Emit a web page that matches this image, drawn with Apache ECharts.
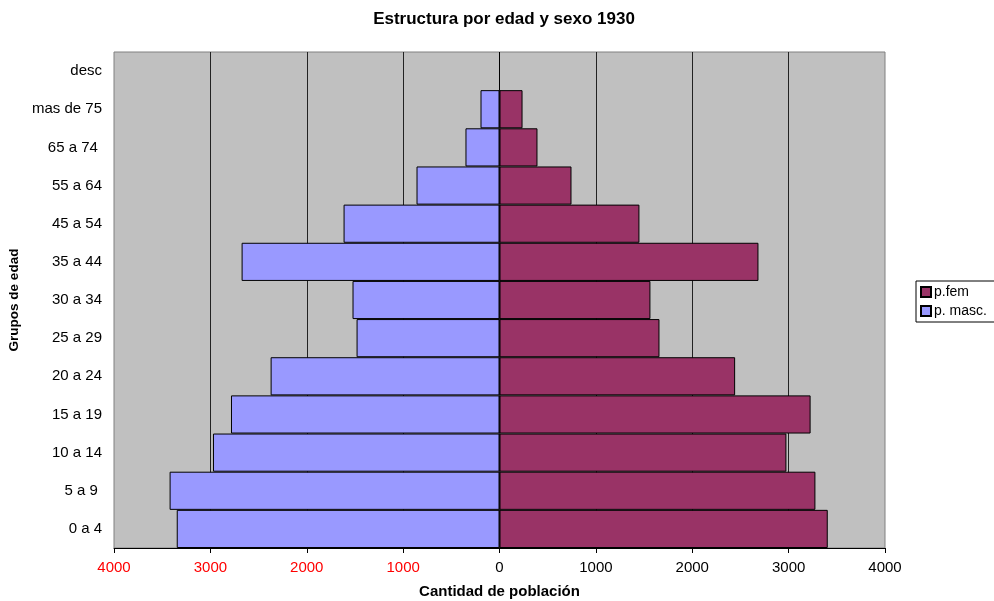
<!DOCTYPE html>
<html>
<head>
<meta charset="utf-8">
<script src="https://cdn.jsdelivr.net/npm/echarts@6/dist/echarts.min.js"></script>
<style>
  html, body { margin: 0; padding: 0; background: #fff; }
  #chart { width: 994px; height: 601px; }
</style>
</head>
<body>
<div id="chart"></div>
<script>
// age groups, bottom to top
const grupos = ['0 a 4', '5 a 9 ', '10 a 14', '15 a 19', '20 a 24', '25 a 29', '30 a 34',
  '35 a 44', '45 a 54', '55 a 64', '65 a 74 ', 'mas de 75', 'desc']
const fem = [3406, 3278, 2977, 3228, 2445, 1660, 1566, 2687, 1452, 747, 394, 239, 0]
const masc = [3349, 3423, 2973, 2786, 2375, 1483, 1525, 2676, 1618, 861, 353, 197, 0]

const font = 'Arial, "Liberation Sans", sans-serif'

const chart = echarts.init(document.getElementById('chart'))

chart.setOption({
  animation: false,
  backgroundColor: '#fff',
  title: {
    text: 'Estructura por edad y sexo 1930',
    left: 499,
    textAlign: 'center',
    top: 6,
    textStyle: { fontFamily: font, fontSize: 17, fontWeight: 'bold', color: '#000' }
  },
  legend: {
    orient: 'vertical',
    left: 916,
    top: 281,
    padding: [4, 20, 4, 4],
    itemGap: 5,
    itemWidth: 10,
    itemHeight: 10,
    borderColor: '#000',
    borderWidth: 1,
    borderRadius: 0,
    icon: 'rect',
    data: ['p.fem', 'p. masc.'],
    textStyle: { fontFamily: font, fontSize: 14, color: '#000', padding: [0, 0, 0, -2] }
  },
  grid: {
    left: 114,
    right: 109,
    top: 52,
    bottom: 53,
    outerBoundsMode: 'none',
    containLabel: false,
    show: true,
    backgroundColor: '#C0C0C0',
    borderColor: '#808080',
    borderWidth: 1
  },
  xAxis: {
    type: 'value',
    min: -4000,
    max: 4000,
    interval: 1000,
    name: 'Cantidad de población',
    nameLocation: 'middle',
    nameGap: 36,
    nameTextStyle: { fontFamily: font, fontSize: 15, fontWeight: 'bold', color: '#000' },
    axisLine: { show: true, lineStyle: { color: '#000', width: 1 } },
    axisTick: { show: true, length: 5, lineStyle: { color: '#000' } },
    axisLabel: {
      fontFamily: font,
      fontSize: 15,
      margin: 12,
      formatter: (v) => String(Math.abs(v)),
      color: (v) => (Number(v) < 0 ? '#FF0000' : '#000')
    },
    splitLine: {
      show: true,
      showMinLine: false,
      showMaxLine: false,
      lineStyle: { color: '#222', width: 1 }
    }
  },
  yAxis: {
    type: 'category',
    data: grupos,
    name: 'Grupos de edad',
    nameLocation: 'middle',
    nameGap: 86,
    nameTextStyle: { fontFamily: font, fontSize: 13.5, fontWeight: 'bold', color: '#000' },
    axisLine: { show: false },
    axisTick: { show: false },
    axisLabel: { fontFamily: font, fontSize: 15, color: '#000', margin: 12 }
  },
  series: [
    {
      name: 'p.fem',
      type: 'bar',
      data: fem,
      barCategoryGap: 0,
      barGap: '-100%',
      itemStyle: { color: '#993366', borderColor: '#000', borderWidth: 1 }
    },
    {
      name: 'p. masc.',
      type: 'bar',
      data: masc.map((v) => -v),
      barCategoryGap: 0,
      barGap: '-100%',
      itemStyle: { color: '#9999FF', borderColor: '#000', borderWidth: 1 }
    }
  ]
})
</script>
</body>
</html>
